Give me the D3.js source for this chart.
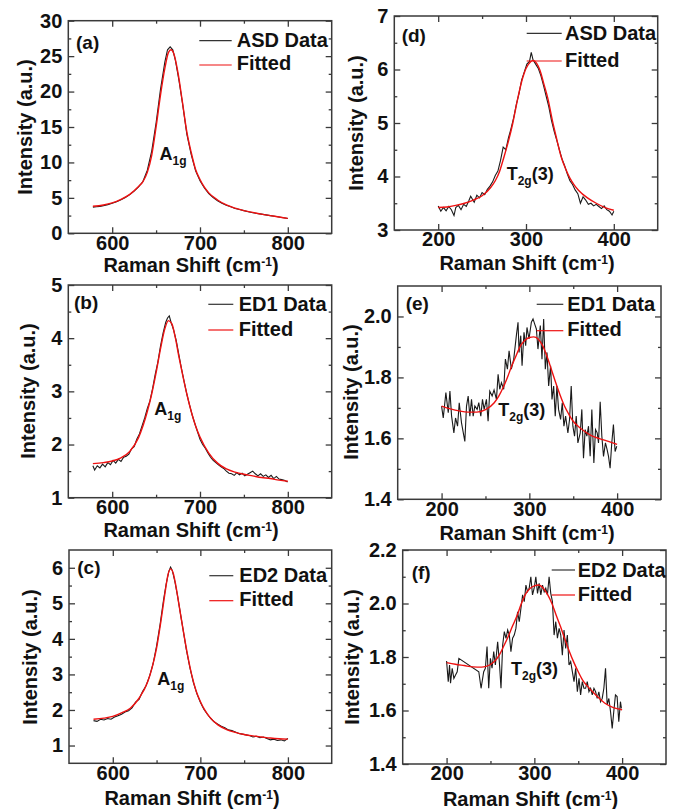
<!DOCTYPE html>
<html>
<head>
<meta charset="utf-8">
<script src="https://cdn.jsdelivr.net/npm/d3@7"></script>
<style>
  body { margin: 0; background: #fff; }
  svg { display: block; }
  text { font-family: Arial, 'Liberation Sans', sans-serif; font-weight: bold; fill: #111; }
</style>
</head>
<body>
<svg id="fig" width="675" height="809"></svg>
<script>
// ---- data: [Raman shift (cm-1), intensity (a.u.)] ----
const asdA1g = [[578,3.7],[582,3.75],[586,3.8],[590,3.9],[595,4.05],[600,4.25],[605,4.45],[610,4.75],[615,5.05],[620,5.45],[625,5.95],[630,6.55],[635,7.3],[640,8.9],[645,11.6],[650,15.6],[655,20.3],[660,24.2],[663,25.9],[666,26.3],[669,25.9],[672,24.4],[676,21.6],[680,18.4],[685,14.0],[690,11.1],[695,8.8],[700,7.4],[705,6.4],[710,5.6],[715,5.05],[720,4.6],[725,4.25],[730,3.95],[735,3.75],[740,3.5],[745,3.35],[750,3.2],[755,3.05],[760,2.9],[765,2.8],[770,2.7],[775,2.6],[780,2.5],[785,2.4],[790,2.3],[795,2.2],[800,2.1]];
const asdA1gFit = [[578,3.82],[590,4.0],[600,4.3],[610,4.8],[620,5.5],[630,6.6],[635,7.3],[640,8.6],[645,11.0],[650,15.0],[655,19.5],[660,23.3],[664,25.5],[667,25.9],[670,25.4],[675,22.6],[680,18.5],[685,14.3],[690,11.4],[695,9.0],[700,7.6],[705,6.5],[710,5.7],[720,4.7],[730,4.0],[740,3.55],[750,3.2],[760,2.95],[770,2.7],[780,2.5],[790,2.3],[800,2.1]];

const ed1A1g = [[578,1.6],[580,1.52],[583,1.6],[586,1.56],[589,1.63],[592,1.58],[595,1.66],[598,1.62],[601,1.7],[604,1.65],[607,1.72],[610,1.68],[613,1.76],[616,1.78],[619,1.82],[622,1.92],[625,1.96],[628,2.1],[631,2.2],[634,2.35],[637,2.5],[640,2.68],[643,2.82],[646,3.05],[649,3.32],[652,3.55],[655,3.85],[658,4.1],[661,4.3],[663,4.38],[665,4.42],[667,4.3],[670,4.15],[673,3.95],[676,3.68],[679,3.42],[682,3.18],[685,2.95],[688,2.75],[691,2.56],[694,2.4],[697,2.25],[700,2.1],[703,2.0],[706,1.93],[709,1.84],[712,1.76],[715,1.7],[718,1.66],[721,1.62],[724,1.58],[727,1.55],[730,1.5],[733,1.46],[736,1.45],[739,1.42],[742,1.47],[745,1.43],[748,1.46],[751,1.41],[754,1.44],[757,1.47],[760,1.5],[763,1.45],[766,1.41],[769,1.45],[772,1.4],[775,1.43],[778,1.38],[781,1.42],[784,1.36],[787,1.4],[790,1.35],[793,1.34],[796,1.33],[799,1.3],[800,1.3]];
const ed1A1gFit = [[578,1.64],[590,1.66],[600,1.69],[610,1.75],[620,1.87],[630,2.13],[640,2.62],[645,2.95],[650,3.35],[655,3.8],[660,4.18],[664,4.33],[668,4.27],[672,4.0],[676,3.65],[680,3.33],[685,2.95],[690,2.62],[695,2.35],[700,2.14],[710,1.84],[720,1.65],[730,1.54],[740,1.48],[750,1.44],[760,1.41],[770,1.38],[780,1.36],[790,1.33],[800,1.31]];

const ed2A1g = [[578,1.7],[582,1.68],[586,1.74],[590,1.72],[594,1.76],[598,1.74],[602,1.8],[606,1.84],[610,1.88],[614,1.94],[618,1.98],[622,2.06],[626,2.22],[630,2.3],[634,2.52],[638,2.68],[642,2.95],[646,3.3],[650,3.8],[654,4.4],[658,5.1],[661,5.55],[664,5.9],[666,6.02],[668,5.92],[671,5.6],[674,5.2],[677,4.75],[680,4.3],[684,3.7],[688,3.2],[692,2.78],[696,2.46],[700,2.22],[704,2.02],[708,1.88],[712,1.76],[716,1.66],[720,1.6],[724,1.54],[728,1.5],[732,1.44],[736,1.42],[740,1.38],[744,1.34],[748,1.32],[752,1.3],[756,1.28],[760,1.24],[764,1.26],[768,1.22],[772,1.24],[776,1.2],[780,1.16],[784,1.18],[788,1.14],[792,1.16],[796,1.13],[800,1.2]];
const ed2A1gFit = [[578,1.74],[590,1.77],[600,1.82],[610,1.92],[620,2.05],[630,2.33],[640,2.8],[645,3.2],[650,3.74],[655,4.5],[660,5.35],[663,5.8],[666,5.97],[669,5.85],[672,5.5],[676,4.9],[680,4.3],[685,3.6],[690,3.0],[695,2.55],[700,2.24],[705,2.0],[710,1.82],[720,1.58],[730,1.45],[740,1.37],[750,1.31],[760,1.27],[770,1.24],[780,1.21],[790,1.19],[800,1.18]];

const asdT2g = [[200,3.45],[203,3.35],[206,3.42],[209,3.36],[212,3.44],[215,3.38],[218,3.27],[220,3.42],[223,3.46],[226,3.38],[229,3.48],[232,3.44],[235,3.55],[237,3.63],[241,3.52],[244,3.65],[247,3.6],[250,3.7],[253,3.66],[256,3.76],[259,3.82],[262,3.9],[265,4.02],[268,4.1],[271,4.3],[274,4.55],[277,4.5],[280,4.72],[283,4.9],[286,5.1],[289,5.35],[292,5.55],[295,5.8],[298,5.95],[301,6.1],[304,6.15],[306,6.32],[308,6.18],[311,6.1],[314,6.02],[317,5.88],[320,5.7],[323,5.5],[326,5.3],[329,5.05],[332,4.85],[335,4.68],[338,4.5],[341,4.33],[344,4.2],[347,4.05],[350,3.92],[353,3.85],[356,3.75],[359,3.68],[362,3.5],[365,3.62],[368,3.56],[371,3.48],[374,3.5],[377,3.45],[380,3.48],[383,3.44],[386,3.4],[389,3.45],[392,3.38],[395,3.35],[398,3.28],[400,3.35]];
const asdT2gFit = [[200,3.42],[210,3.43],[220,3.46],[230,3.5],[240,3.56],[250,3.64],[260,3.8],[265,3.92],[270,4.1],[275,4.37],[280,4.66],[285,5.0],[290,5.41],[295,5.77],[300,6.02],[305,6.14],[308,6.17],[312,6.12],[316,5.98],[320,5.75],[325,5.45],[330,5.05],[335,4.7],[340,4.37],[345,4.15],[350,3.97],[355,3.84],[360,3.74],[370,3.6],[380,3.5],[390,3.42],[400,3.37]];

const ed1T2g = [[200,1.706],[201.9,1.667],[204.9,1.75],[207.6,1.684],[209.5,1.755],[211.4,1.673],[214,1.618],[215.9,1.667],[218.2,1.64],[220.1,1.717],[222.7,1.651],[226.5,1.59],[228.4,1.706],[230.3,1.739],[232.2,1.673],[234.1,1.728],[236,1.673],[237.9,1.706],[240.5,1.695],[242.4,1.717],[244.7,1.673],[246.6,1.728],[248.5,1.695],[251.1,1.728],[253,1.656],[254.9,1.755],[257.6,1.739],[259.8,1.759],[262.5,1.728],[264.4,1.81],[266.3,1.761],[268.2,1.783],[270.8,1.761],[272.7,1.86],[275,1.827],[276.9,1.887],[279.5,1.827],[282.2,1.86],[285.2,1.937],[287.1,1.981],[288.3,1.882],[290.2,1.937],[291.7,1.838],[293.9,1.948],[295.8,1.904],[297.3,1.964],[299.6,1.926],[302.3,1.981],[304.2,1.992],[306.1,1.975],[308,1.959],[309.8,1.893],[312.5,1.97],[314.4,1.86],[316.3,1.992],[318.2,1.827],[320.1,1.882],[322,1.772],[324.2,1.838],[325.8,1.728],[327.7,1.772],[329.5,1.673],[331.4,1.772],[333.3,1.695],[335.6,1.662],[337.5,1.717],[339.4,1.64],[341.3,1.673],[343.9,1.618],[345.8,1.662],[347.7,1.772],[349.6,1.64],[351.5,1.607],[353.4,1.673],[355.3,1.585],[358,1.618],[359.8,1.695],[361.7,1.535],[363.6,1.629],[365.5,1.607],[367.4,1.64],[369.3,1.541],[371.2,1.695],[373.5,1.519],[375.4,1.629],[377.3,1.618],[378.8,1.585],[380.7,1.72],[382.6,1.607],[384.5,1.541],[386.7,1.585],[388.6,1.563],[390.2,1.541],[392,1.502],[393.9,1.585],[395.8,1.645],[397.7,1.557],[399.6,1.574]];
const ed1T2gFit = [[200,1.706],[210,1.697],[220,1.69],[230,1.686],[240,1.686],[250,1.694],[260,1.717],[265,1.738],[270,1.766],[275,1.8],[280,1.838],[285,1.872],[290,1.904],[295,1.922],[300,1.931],[305,1.933],[310,1.926],[315,1.905],[320,1.87],[325,1.827],[330,1.783],[335,1.742],[340,1.706],[345,1.679],[350,1.656],[355,1.641],[360,1.629],[370,1.61],[380,1.599],[390,1.59],[400,1.58]];

const ed2T2g = [[200,1.785],[201.9,1.708],[203.4,1.77],[204.5,1.702],[206.4,1.758],[208.3,1.72],[210.2,1.733],[212.1,1.745],[214,1.795],[236.7,1.745],[239.3,1.683],[242.3,1.745],[244.2,1.758],[246.1,1.839],[248,1.683],[249.9,1.795],[251.8,1.758],[253.7,1.82],[255.6,1.77],[258.2,1.857],[260.1,1.783],[262,1.683],[263.9,1.845],[265.8,1.895],[267.7,1.87],[269.6,1.901],[271.5,1.882],[273.3,1.82],[275.2,1.87],[277.1,1.882],[279,1.907],[280.9,1.969],[282.8,1.932],[284.7,1.982],[286.6,2.032],[288.5,2.007],[290.4,2.069],[292.2,2.044],[294.1,2.057],[296,2.1],[297.9,2.032],[299.8,2.057],[301.7,2.1],[303.6,2.038],[305.5,2.075],[307.4,2.032],[309.3,2.069],[311.2,2.044],[313,2.057],[314.9,2.032],[316.8,2.1],[318.7,2.038],[320.6,2.007],[322.5,1.882],[324.4,1.932],[326.3,1.87],[328.2,1.907],[330.1,1.882],[331.9,1.807],[333.8,1.901],[335.7,1.832],[337.6,1.882],[339.5,1.77],[341.4,1.783],[343.3,1.745],[345.2,1.708],[347.1,1.758],[349,1.67],[350.9,1.72],[352.7,1.658],[354.6,1.708],[356.5,1.683],[358.4,1.683],[360.3,1.708],[362.2,1.67],[364.1,1.683],[366,1.658],[367.9,1.683],[369.8,1.67],[371.6,1.645],[373.5,1.67],[375.4,1.633],[377.3,1.645],[379.2,1.683],[381.1,1.758],[383,1.621],[384.9,1.645],[386.8,1.596],[388.7,1.533],[390.5,1.596],[392.4,1.658],[394.3,1.652],[396.2,1.558],[398.1,1.633],[399.2,1.608]];
const ed2T2gFit = [[200,1.779],[210,1.773],[220,1.768],[230,1.763],[240,1.762],[245,1.765],[250,1.772],[255,1.785],[260,1.807],[265,1.84],[270,1.875],[275,1.915],[280,1.952],[285,1.998],[290,2.035],[295,2.056],[300,2.066],[305,2.069],[310,2.058],[315,2.034],[320,2.0],[325,1.955],[330,1.912],[335,1.864],[340,1.82],[345,1.78],[350,1.745],[355,1.714],[360,1.693],[370,1.658],[380,1.628],[390,1.611],[400,1.603]];

// tick values
const a1gShiftTicks = [600, 700, 800];
const a1gShiftMinor = [650, 750];
const t2gShiftTicks = [200, 300, 400];
const t2gShiftMinor = [250, 350];
const aTicks = [0, 5, 10, 15, 20, 25, 30], aMinor = [2.5, 7.5, 12.5, 17.5, 22.5, 27.5];
const bTicks = [1, 2, 3, 4, 5], bMinor = [1.5, 2.5, 3.5, 4.5];
const cTicks = [1, 2, 3, 4, 5, 6], cMinor = [1.5, 2.5, 3.5, 4.5, 5.5];
const dTicks = [3, 4, 5, 6, 7], dMinor = [3.5, 4.5, 5.5, 6.5];
const eTicks = [1.4, 1.6, 1.8, 2.0], eMinor = [1.5, 1.7, 1.9];
const fTicks = [1.4, 1.6, 1.8, 2.0, 2.2], fMinor = [1.5, 1.7, 1.9, 2.1];

// layout of each panel: frame [left, top, right, bottom] in px
const panels = [
  {tag: '(a)', box: [68.3, 20.7, 331.7, 233.3], xd: [550, 850], yd: [0, 30], xt: a1gShiftTicks, xm: a1gShiftMinor,
   yt: aTicks, ym: aMinor, fmt: d3.format('d'), data: asdA1g, fit: asdA1gFit, name: 'ASD Data',
   leg: {x1: 131, x2: 163.4, tx: 168.4, y1: 20, y2: 44.3}, tagPos: [7.7, 28], mode: ['A', '1g', ''], modeAt: [654, 10.4],
   xTitle: [191, 271.5], yTitle: [32.3, 127]},
  {tag: '(b)', box: [68.3, 285, 331.7, 497.7], xd: [550, 850], yd: [1, 5], xt: a1gShiftTicks, xm: a1gShiftMinor,
   yt: bTicks, ym: bMinor, fmt: d3.format('d'), data: ed1A1g, fit: ed1A1gFit, name: 'ED1 Data',
   leg: {x1: 140, x2: 165, tx: 170.4, y1: 19.3, y2: 45}, tagPos: [5.7, 23.5], mode: ['A', '1g', ''], modeAt: [648, 2.55],
   xTitle: [191, 536.5], yTitle: [35, 391]},
  {tag: '(c)', box: [69, 550, 331.7, 763.3], xd: [550, 850], yd: [0.5, 6.5], xt: a1gShiftTicks, xm: a1gShiftMinor,
   yt: cTicks, ym: cMinor, fmt: d3.format('d'), data: ed2A1g, fit: ed2A1gFit, name: 'ED2 Data',
   leg: {x1: 140.3, x2: 164.3, tx: 170.3, y1: 25.7, y2: 50.7}, tagPos: [8.3, 23.5], mode: ['A', '1g', ''], modeAt: [650.8, 2.7],
   xTitle: [192, 804.5], yTitle: [37.3, 657]},
  {tag: '(d)', box: [394.3, 16, 657.7, 230], xd: [150, 450], yd: [3, 7], xt: t2gShiftTicks, xm: t2gShiftMinor,
   yt: dTicks, ym: dMinor, fmt: d3.format('d'), data: asdT2g, fit: asdT2gFit, name: 'ASD Data',
   leg: {x1: 132.4, x2: 167.4, tx: 170.7, y1: 17.3, y2: 45}, tagPos: [7.4, 26], mode: ['T', '2g', '(3)'], modeAt: [278, 3.93],
   xTitle: [527, 269.5], yTitle: [363.3, 123]},
  {tag: '(e)', box: [397.7, 286, 661, 499.3], xd: [150, 450], yd: [1.4, 2.1], xt: t2gShiftTicks, xm: t2gShiftMinor,
   yt: eTicks, ym: eMinor, fmt: d3.format('.1f'), data: ed1T2g, fit: ed1T2gFit, name: 'ED1 Data',
   leg: {x1: 139, x2: 165.6, tx: 169.6, y1: 18.3, y2: 44.7}, tagPos: [8, 23.5], mode: ['T', '2g', '(3)'], modeAt: [264.6, 1.673],
   xTitle: [527, 539.5], yTitle: [358.3, 392]},
  {tag: '(f)', box: [402.7, 550, 666, 764], xd: [150, 450], yd: [1.4, 2.2], xt: t2gShiftTicks, xm: t2gShiftMinor,
   yt: fTicks, ym: fMinor, fmt: d3.format('.1f'), data: ed2T2g, fit: ed2T2gFit, name: 'ED2 Data',
   leg: {x1: 149, x2: 172.3, tx: 175, y1: 20, y2: 45}, tagPos: [9, 28.5], mode: ['T', '2g', '(3)'], modeAt: [273.4, 1.733],
   xTitle: [530.5, 805.5], yTitle: [359, 657]}
];

const svg = d3.select('#fig');
const frameColor = '#3a3a3a';

panels.forEach(p => {
  const w = p.box[2] - p.box[0], h = p.box[3] - p.box[1];
  const x = d3.scaleLinear().domain(p.xd).range([0, w]);
  const y = d3.scaleLinear().domain(p.yd).range([h, 0]);
  const g = svg.append('g').attr('transform', `translate(${p.box[0]},${p.box[1]})`);

  // inward ticks on all four sides
  const styleAxis = sel => {
    sel.select('.domain').remove();
    sel.selectAll('line').attr('stroke', frameColor).attr('stroke-width', 1.3);
    sel.selectAll('text').attr('font-size', 20).attr('font-family', null).attr('fill', '#111');
  };
  g.append('g').attr('transform', `translate(0,${h})`)
    .call(d3.axisBottom(x).tickValues(p.xt).tickSizeInner(-6).tickSizeOuter(0).tickPadding(2).tickFormat(d3.format('d')))
    .call(styleAxis);
  g.append('g').attr('transform', `translate(0,${h})`)
    .call(d3.axisBottom(x).tickValues(p.xm).tickSize(-3).tickFormat(''))
    .call(styleAxis);
  g.append('g')
    .call(d3.axisTop(x).tickValues(p.xt).tickSize(-6).tickFormat(''))
    .call(styleAxis);
  g.append('g')
    .call(d3.axisTop(x).tickValues(p.xm).tickSize(-3).tickFormat(''))
    .call(styleAxis);
  g.append('g')
    .call(d3.axisLeft(y).tickValues(p.yt).tickSizeInner(-6).tickSizeOuter(0).tickPadding(6).tickFormat(p.fmt))
    .call(styleAxis);
  g.append('g')
    .call(d3.axisLeft(y).tickValues(p.ym).tickSize(-3).tickFormat(''))
    .call(styleAxis);
  g.append('g').attr('transform', `translate(${w},0)`)
    .call(d3.axisRight(y).tickValues(p.yt).tickSize(-6).tickFormat(''))
    .call(styleAxis);
  g.append('g').attr('transform', `translate(${w},0)`)
    .call(d3.axisRight(y).tickValues(p.ym).tickSize(-3).tickFormat(''))
    .call(styleAxis);

  g.append('rect')
    .attr('width', w).attr('height', h)
    .attr('fill', 'none').attr('stroke', frameColor).attr('stroke-width', 1.5);

  // measured spectrum and the fit
  g.append('path').datum(p.data)
    .attr('d', d3.line().x(d => x(d[0])).y(d => y(d[1])))
    .attr('fill', 'none').attr('stroke', '#1a1a1a').attr('stroke-width', 1.1);
  g.append('path').datum(p.fit)
    .attr('d', d3.line().curve(d3.curveMonotoneX).x(d => x(d[0])).y(d => y(d[1])))
    .attr('fill', 'none').attr('stroke', '#ee1111').attr('stroke-width', 1.4);

  // legend
  const L = p.leg;
  g.append('line').attr('x1', L.x1).attr('x2', L.x2).attr('y1', L.y1).attr('y2', L.y1)
    .attr('stroke', '#333').attr('stroke-width', 1.2);
  g.append('text').attr('x', L.tx).attr('y', L.y1 + 6.5).attr('font-size', 20).text(p.name);
  g.append('line').attr('x1', L.x1).attr('x2', L.x2).attr('y1', L.y2).attr('y2', L.y2)
    .attr('stroke', '#ee1111').attr('stroke-width', 1.2);
  g.append('text').attr('x', L.tx).attr('y', L.y2 + 5.5).attr('font-size', 20).text('Fitted');

  // panel tag
  g.append('text').attr('x', p.tagPos[0]).attr('y', p.tagPos[1]).attr('font-size', 19).text(p.tag);

  // mode label with subscript
  const m = g.append('text').attr('x', x(p.modeAt[0])).attr('y', y(p.modeAt[1])).attr('font-size', 18);
  m.append('tspan').text(p.mode[0]);
  m.append('tspan').attr('font-size', 12).attr('dy', 5).text(p.mode[1]);
  if (p.mode[2]) m.append('tspan').attr('dy', -5).text(p.mode[2]);

  // axis titles (absolute positions)
  const xt = svg.append('text').attr('x', p.xTitle[0]).attr('y', p.xTitle[1])
    .attr('text-anchor', 'middle').attr('font-size', 20);
  xt.append('tspan').text('Raman Shift (cm');
  xt.append('tspan').attr('font-size', 12).attr('dy', -6).text('-1');
  xt.append('tspan').attr('dy', 6).text(')');

  svg.append('text')
    .attr('transform', `translate(${p.yTitle[0]},${p.yTitle[1]}) rotate(-90)`)
    .attr('text-anchor', 'middle').attr('font-size', 20)
    .text('Intensity (a.u.)');
});
</script>
</body>
</html>
